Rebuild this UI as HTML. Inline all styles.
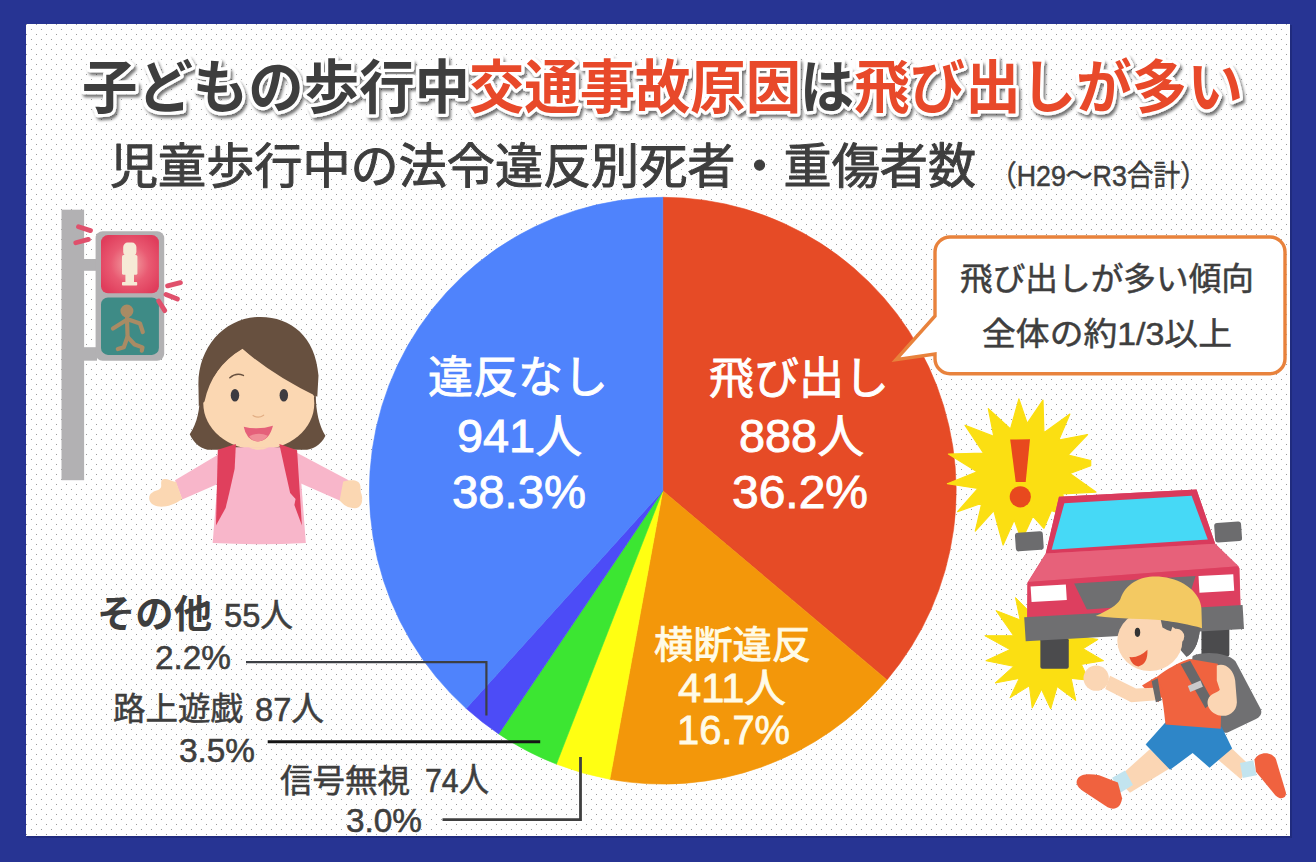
<!DOCTYPE html>
<html><head><meta charset="utf-8"><title>chart</title>
<style>html,body{margin:0;padding:0;background:#273493;font-family:"Liberation Sans",sans-serif;}svg{display:block}</style>
</head><body>
<svg width="1316" height="862" viewBox="0 0 1316 862">
<defs>
<pattern id="dots" x="0" y="0" width="10" height="10" patternUnits="userSpaceOnUse">
<rect x="1" y="9" width="1" height="1" fill="#9b9b9b"/><rect x="6" y="4" width="1" height="1" fill="#9b9b9b"/>
</pattern>
<filter id="tsh" x="-5%" y="-20%" width="110%" height="150%"><feGaussianBlur in="SourceAlpha" stdDeviation="1.6"/><feOffset dx="1.5" dy="3"/><feComponentTransfer><feFuncA type="linear" slope="0.55"/></feComponentTransfer><feMerge><feMergeNode/><feMergeNode in="SourceGraphic"/></feMerge></filter>
<radialGradient id="redg" cx="50%" cy="50%" r="60%"><stop offset="0" stop-color="#f3a6a6"/><stop offset="0.55" stop-color="#e95a72"/><stop offset="1" stop-color="#e03d5c"/></radialGradient>
</defs>
<rect width="1316" height="862" fill="#273493"/>
<rect x="27" y="25" width="1265" height="813" fill="#1c2670" opacity="0.6"/>
<rect x="26" y="24" width="1264" height="812" fill="#fefefe"/>
<rect x="26" y="24" width="1264" height="812" fill="url(#dots)"/>
<path d="M662.8 490.7L662.8 197.3A293.4 293.4 0 0 1 887.0 679.9Z" fill="#e64b26" stroke="#e64b26" stroke-width="0.6"/>
<path d="M662.8 490.7L887.0 679.9A293.4 293.4 0 0 1 609.8 779.3Z" fill="#f3970a" stroke="#f3970a" stroke-width="0.6"/>
<path d="M662.8 490.7L609.8 779.3A293.4 293.4 0 0 1 556.4 764.1Z" fill="#ffff12" stroke="#ffff12" stroke-width="0.6"/>
<path d="M662.8 490.7L556.4 764.1A293.4 293.4 0 0 1 498.7 733.9Z" fill="#3ce632" stroke="#3ce632" stroke-width="0.6"/>
<path d="M662.8 490.7L498.7 733.9A293.4 293.4 0 0 1 466.2 708.5Z" fill="#4c4cf7" stroke="#4c4cf7" stroke-width="0.6"/>
<path d="M662.8 490.7L466.2 708.5A293.4 293.4 0 0 1 662.8 197.3Z" fill="#4f83fc" stroke="#4f83fc" stroke-width="0.6"/>
<!-- traffic light -->
<g>
<rect x="61.5" y="209.7" width="22.6" height="270.5" fill="#b2b1b3"/>
<rect x="83" y="259" width="14" height="11.8" fill="#b2b1b3"/>
<rect x="83" y="347.2" width="14" height="13.5" fill="#b2b1b3"/>
<rect x="95.6" y="231.2" width="68.6" height="129.5" rx="7" fill="#b2b1b3"/>
<rect x="101" y="235.1" width="57.9" height="58.1" rx="7" fill="url(#redg)"/>
<rect x="101" y="297.4" width="57.9" height="57.5" rx="7" fill="#3e8b86"/>
<g fill="#f6ead6">
<rect x="123.2" y="242.6" width="13.2" height="13.6" rx="4.5"/>
<rect x="122" y="255" width="15.4" height="19.8" rx="1.5"/>
<rect x="125.4" y="274" width="8.6" height="9"/>
<rect x="122" y="282" width="15.2" height="3.6" rx="0.8"/>
</g>
<g fill="none" stroke="#a98b64" stroke-width="4.2" stroke-linecap="round" stroke-linejoin="round">
<circle cx="126.9" cy="311" r="5.2" fill="#a98b64" stroke-width="2.6"/>
<path d="M127 318L127.6 337.5"/>
<path d="M126.5 320L113 328.6"/>
<path d="M128.3 319.5L140 323.4L142.8 332"/>
<path d="M127.4 337.3L123.8 347.2L117.8 349"/>
<path d="M128 337.3L134.6 344.5L142.5 347.4L141.8 350.6"/>
</g>
<g fill="none" stroke="#e0506c" stroke-width="4.8" stroke-linecap="round">
<path d="M78.5 226.8L90.5 230.6"/><path d="M75.8 242.8L88.4 239.4"/>
<path d="M167.6 285.8L180.4 282.6"/><path d="M166 294.4L177.4 299"/><path d="M158.6 301L164.8 310.6"/>
</g>
</g>
<!-- girl : zoom frame origin (140,300) scale 1/3.3167 -->
<g transform="translate(140 300) scale(0.3015)">
<path d="M165 445C195 400 200 350 198 290C190 175 270 60 400 60C525 60 592 170 584 290C580 350 590 410 615 450C600 482 570 497 545 497L235 497C205 497 180 477 165 445Z" fill="#67503f"/>
<rect x="355" y="440" width="80" height="70" fill="#fbd7b2"/>
<ellipse cx="394" cy="343" rx="184" ry="154" fill="#fbd7b2"/>

<path d="M212 345Q236 220 340 160Q440 248 578 318L560 400L228 400Z" fill="#fbd7b2"/>
<path d="M195 352L214 337Q238 222 340 162Q440 250 588 321L592 250C582 120 500 56 400 56C280 56 188 160 194 290Z" fill="#67503f"/>
<ellipse cx="315" cy="316" rx="14" ry="21" fill="#3d3b40"/><ellipse cx="477" cy="316" rx="14" ry="21" fill="#3d3b40"/>
<path d="M298 258Q318 240 343 250" fill="none" stroke="#67503f" stroke-width="5" stroke-linecap="round"/>
<path d="M375 383Q392 395 410 382" fill="none" stroke="#e2ae84" stroke-width="4" stroke-linecap="round"/>
<path d="M344 420Q392 432 441 417Q428 468 391 469Q353 466 344 420Z" fill="#e5607a"/>
<path d="M362 452Q392 436 424 450Q410 469 391 469Q372 468 362 452Z" fill="#f08e98"/>
<!-- arms -->
<path d="M292 493L116 598L140 662L280 600Z" fill="#f8b6ca"/>
<path d="M495 493L692 598L664 666L515 600Z" fill="#f8b6ca"/>
<path d="M120 604C100 600 86 588 72 597C66 612 78 622 60 630C38 636 26 646 32 666C42 692 95 694 140 660Z" fill="#fbd7b2"/>
<path d="M674 602C696 597 714 595 726 605C736 620 728 628 735 645C742 672 730 692 712 691C690 690 675 680 662 665Z" fill="#fbd7b2"/>
<!-- body -->
<path d="M305 488L482 488C502 493 522 510 530 540L550 806Q395 814 241 806L262 540C268 510 285 493 305 488Z" fill="#f8b6ca"/>
<path d="M360 488Q393 505 428 488Z" fill="#fbd7b2"/>
<!-- straps -->
<path d="M258 497L318 478L314 560L296 640L284 690L252 748Z" fill="#e0405d"/>
<path d="M462 478L521 498L537 748L512 680L516 660L498 640L480 560Z" fill="#e0405d"/>
</g>

<path d="M1015.5 597.6L1020.1 619.9L996.0 610.6L1013.6 635.7L984.8 635.7L1009.9 649.6L985.8 660.7L1013.6 666.3L995.1 683.0L1019.2 678.4L1009.9 697.9L1029.4 685.8L1032.2 708.1L1041.5 689.5L1050.7 709.0L1057.2 686.7L1075.8 700.6L1071.2 678.4L1088.8 680.2L1081.4 664.4L1103.6 660.7L1083.2 648.7L1098.1 639.4L1073.9 635.7L1066.5 613.4L1031.2 613.4Z" fill="#fbdf12" stroke="#fbdf12" stroke-width="1" stroke-linejoin="round"/>
<path d="M1018.9 398.9L1027.2 423.4L1043.0 400.2L1043.9 432.7L1069.9 414.1L1058.8 440.1L1087.6 434.5L1068.1 455.0L1090.7 460.5L1090.7 465.7L1069.9 473.5L1095.9 492.1L1062.5 493.9L1069.9 516.2L1051.4 510.6L1043.9 528.3L1032.8 516.2L1021.7 540.3L1014.2 519.9L1003.1 545.0L993.8 510.6L975.3 531.1L981.8 503.2L957.6 511.6L978.0 488.4L947.4 483.7L977.1 471.7L948.4 454.0L983.6 453.1L965.1 425.3L993.8 436.4L988.3 408.6L1010.5 429.0Z" fill="#fbdf12" stroke="#fbdf12" stroke-width="1.2" stroke-linejoin="round"/>
<path d="M1010.2 439.6L1030 439.2L1025.7 482L1015.7 482Z" fill="#e8491e"/>
<circle cx="1020.3" cy="496.8" r="10.6" fill="#e8491e"/>
<g transform="translate(940 440) scale(0.48957)">
<rect x="205" y="405" width="58" height="62" rx="4" fill="#4b4b4d"/>
<rect x="534" y="384" width="57" height="58" rx="4" fill="#4b4b4d"/>
<path d="M243 116L524 101L562 212L612 262L614 345L178 370L178 292L216 232Z" fill="#e2526c"/>
<path d="M243 116L524 101L562 212L216 232Z" fill="#d93a5c"/>
<path d="M254 129L514 114L547 203L228 224Z" fill="#46d9f6"/>
<path d="M216 232L562 212L610 258L180 290Z" fill="#e7617a"/>
<path d="M180 290L610 258L614 345L178 370Z" fill="#dd3f5f"/>
<path d="M172 362L618 337L621 386L175 411Z" fill="#6f6f71"/>
<path d="M274 293L522 278L505 332L300 346Z" fill="#6f6f71"/>
<path d="M185 299L257 295L259 327L187 331Z" fill="#ffffff"/>
<path d="M528 278L599 274L601 308L530 312Z" fill="#ffffff"/>
<rect x="154" y="188" width="57" height="38" rx="6" fill="#6c6c6e" transform="rotate(-4 182 207)"/>
<rect x="561" y="168" width="55" height="40" rx="6" fill="#6c6c6e" transform="rotate(-4 588 188)"/>
</g>
<g transform="translate(1060 560) scale(0.3015)">
<path d="M440 318C480 300 560 308 582 336L666 495C672 510 662 522 650 527L556 572C545 576 535 571 530 560L438 332Z" fill="#707072"/>
<path d="M498 640L562 618L628 680L600 727Z" fill="#fbd6b4"/>
<path d="M597 673L641 664L652 714L606 723Z" fill="#c2e4ef"/>
<path d="M645 662C660 634 700 634 716 660L749 770C753 792 730 797 714 780L650 702Z" fill="#f0623f"/>
<path d="M298 628L366 690L232 772L188 726Z" fill="#fbd6b4"/>
<path d="M173 722L216 698L242 746L200 772Z" fill="#c2e4ef"/>
<path d="M58 726C68 708 100 708 130 714L192 738L206 790C202 822 180 832 158 820L76 766C54 750 52 738 58 726Z" fill="#f0623f"/>
<path d="M350 538L536 553L571 625L496 689L440 640L365 696L284 612Z" fill="#2e86c8"/>
<path d="M316 392C340 370 400 335 430 328L523 344C536 400 536 500 533 560L350 546C345 500 340 450 330 430Z" fill="#f0633f"/>
<path d="M318 388L272 416L326 472L348 440Z" fill="#f0633f"/>
<path d="M312 424L332 464L236 472L150 428L166 384L252 426Z" fill="#fbd6b4"/>
<circle cx="120" cy="392" r="42" fill="#fbd6b4"/>
<path d="M400 346L432 334L508 470L482 492Z" fill="#68686a"/>
<path d="M304 402L324 392L336 466L318 472Z" fill="#68686a"/>
<path d="M424 418L466 400L474 420L432 438Z" fill="#c9c9cb"/>
<path d="M520 350C546 340 576 360 581 400L586 460C592 500 562 522 530 516C500 510 480 480 494 456C504 440 524 440 530 430L520 400Z" fill="#fbd6b4"/>
<path d="M338 198L466 214C462 262 452 302 420 322C398 300 380 270 358 240Z" fill="#666668"/>
<ellipse cx="298" cy="268" rx="108" ry="100" fill="#fbd6b4"/>
<path d="M340 200L466 216C462 262 452 300 424 318C410 290 405 250 385 230Z" fill="#666668"/>
<circle cx="386" cy="254" r="26" fill="#fbd6b4"/>
<path d="M334 198L378 206L368 236Q352 232 340 224Z" fill="#666668"/>
<ellipse cx="257" cy="240" rx="9" ry="15" fill="#333"/>
<path d="M230 322Q262 326 290 298Q292 346 260 353Q238 350 230 322Z" fill="#e8502f"/>
<path d="M118 186C160 166 190 150 200 130C220 70 280 48 340 56C412 64 466 110 469 160L471 226C430 215 380 205 340 200C280 195 200 196 118 186Z" fill="#f3c962"/>
</g>
<path d="M950 237H1270A15 15 0 0 1 1285 252V358.7A15 15 0 0 1 1270 373.7H950A15 15 0 0 1 935 358.7V354L896 359.6L935 316V252A15 15 0 0 1 950 237Z" fill="#fff" stroke="#e8823c" stroke-width="3.4" stroke-linejoin="miter"/>
<g fill="none" stroke-linejoin="miter">
<path d="M246 662.2H486.4V715.4" stroke="#3c3f44" stroke-width="2.2"/>
<path d="M267.7 741.7H540.2" stroke="#151515" stroke-width="3"/>
<path d="M442.5 819.7H580.5V757.1" stroke="#3f3f3f" stroke-width="2.8"/>
</g>
<g font-family="&quot;Liberation Sans&quot;, &quot;Noto Sans CJK JP&quot;, sans-serif" font-weight="bold" font-size="58">
<g filter="url(#tsh)"><text x="82" y="108" textLength="388" lengthAdjust="spacingAndGlyphs" fill="#fff" stroke="#fff" stroke-width="6.6" stroke-linejoin="round">子どもの歩行中</text></g>
<text x="82" y="108" textLength="388" lengthAdjust="spacingAndGlyphs" fill="#3e3e3e">子どもの歩行中</text>
<g filter="url(#tsh)"><text x="469" y="108" textLength="332" lengthAdjust="spacingAndGlyphs" fill="#fff" stroke="#fff" stroke-width="6.6" stroke-linejoin="round">交通事故原因</text></g>
<text x="469" y="108" textLength="332" lengthAdjust="spacingAndGlyphs" fill="#e8492a">交通事故原因</text>
<g filter="url(#tsh)"><text x="800" y="108" textLength="54" lengthAdjust="spacingAndGlyphs" fill="#fff" stroke="#fff" stroke-width="6.6" stroke-linejoin="round">は</text></g>
<text x="800" y="108" textLength="54" lengthAdjust="spacingAndGlyphs" fill="#3e3e3e">は</text>
<g filter="url(#tsh)"><text x="854" y="108" textLength="389" lengthAdjust="spacingAndGlyphs" fill="#fff" stroke="#fff" stroke-width="6.6" stroke-linejoin="round">飛び出しが多い</text></g>
<text x="854" y="108" textLength="389" lengthAdjust="spacingAndGlyphs" fill="#e8492a">飛び出しが多い</text>
</g>
<g font-family="&quot;Liberation Sans&quot;, &quot;Noto Sans CJK JP&quot;, sans-serif">
<text x="110" y="183" font-size="48" textLength="866" lengthAdjust="spacingAndGlyphs" fill="#3e3e3e" stroke="#3e3e3e" stroke-width="1.0" stroke-linejoin="round">児童歩行中の法令違反別死者・重傷者数</text>
<text x="990" y="185.7" font-size="29" textLength="217" lengthAdjust="spacingAndGlyphs" fill="#3e3e3e" stroke="#3e3e3e" stroke-width="0.5">（H29～R3合計）</text>

<text x="428" y="393" font-size="44" textLength="180" lengthAdjust="spacingAndGlyphs" fill="#fff" stroke="#fff" stroke-width="0.9">違反なし</text>
<text x="457" y="451.7" font-size="46" textLength="125" lengthAdjust="spacingAndGlyphs" fill="#fff" stroke="#fff" stroke-width="0.9">941人</text>
<text x="452" y="508" font-size="46" textLength="134" lengthAdjust="spacingAndGlyphs" fill="#fff" stroke="#fff" stroke-width="0.9">38.3%</text>

<text x="709" y="393.5" font-size="44" textLength="180" lengthAdjust="spacingAndGlyphs" fill="#fff" stroke="#fff" stroke-width="0.9">飛び出し</text>
<text x="739" y="452" font-size="46" textLength="125" lengthAdjust="spacingAndGlyphs" fill="#fff" stroke="#fff" stroke-width="0.9">888人</text>
<text x="732" y="508" font-size="46" textLength="136" lengthAdjust="spacingAndGlyphs" fill="#fff" stroke="#fff" stroke-width="0.9">36.2%</text>

<text x="654" y="658" font-size="38" textLength="157" lengthAdjust="spacingAndGlyphs" fill="#fffbe8" stroke="#fffbe8" stroke-width="0.8">横断違反</text>
<text x="678" y="701.7" font-size="40" textLength="108" lengthAdjust="spacingAndGlyphs" fill="#fffbe8" stroke="#fffbe8" stroke-width="0.8">411人</text>
<text x="677" y="744" font-size="40" textLength="113" lengthAdjust="spacingAndGlyphs" fill="#fffbe8" stroke="#fffbe8" stroke-width="0.8">16.7%</text>

<text x="960" y="289.5" font-size="32" textLength="294" lengthAdjust="spacingAndGlyphs" fill="#3e3e3e" stroke="#3e3e3e" stroke-width="0.5">飛び出しが多い傾向</text>
<text x="982" y="345.1" font-size="32" textLength="250" lengthAdjust="spacingAndGlyphs" fill="#3e3e3e" stroke="#3e3e3e" stroke-width="0.5">全体の約1/3以上</text>

<text x="97" y="626.5" font-size="38" font-weight="bold" textLength="115" lengthAdjust="spacingAndGlyphs" fill="#3e3e3e">その他</text>
<text x="224" y="627" font-size="33" textLength="69" lengthAdjust="spacingAndGlyphs" fill="#3e3e3e" stroke="#3e3e3e" stroke-width="0.55">55人</text>
<text x="155" y="668.7" font-size="33" textLength="76" lengthAdjust="spacingAndGlyphs" fill="#3e3e3e" stroke="#3e3e3e" stroke-width="0.55">2.2%</text>

<text x="113" y="720" font-size="32" textLength="130" lengthAdjust="spacingAndGlyphs" fill="#3e3e3e" stroke="#3e3e3e" stroke-width="0.55">路上遊戯</text>
<text x="255" y="721.3" font-size="34" textLength="69" lengthAdjust="spacingAndGlyphs" fill="#3e3e3e" stroke="#3e3e3e" stroke-width="0.55">87人</text>
<text x="179" y="762.3" font-size="33" textLength="76" lengthAdjust="spacingAndGlyphs" fill="#3e3e3e" stroke="#3e3e3e" stroke-width="0.55">3.5%</text>

<text x="280" y="791.5" font-size="32" textLength="130" lengthAdjust="spacingAndGlyphs" fill="#3e3e3e" stroke="#3e3e3e" stroke-width="0.55">信号無視</text>
<text x="425" y="791.7" font-size="34" textLength="64" lengthAdjust="spacingAndGlyphs" fill="#3e3e3e" stroke="#3e3e3e" stroke-width="0.55">74人</text>
<text x="346" y="832.2" font-size="33" textLength="76" lengthAdjust="spacingAndGlyphs" fill="#3e3e3e" stroke="#3e3e3e" stroke-width="0.55">3.0%</text>
</g>
</svg>
</body></html>
